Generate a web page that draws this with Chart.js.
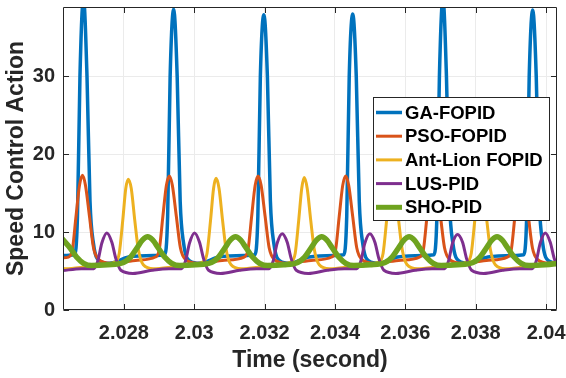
<!DOCTYPE html>
<html>
<head>
<meta charset="utf-8">
<script src="https://cdn.jsdelivr.net/npm/chart.js@4.4.1/dist/chart.umd.min.js"></script>
<style>
  html, body { margin: 0; padding: 0; background: #ffffff; }
  canvas { display: block; }
</style>
</head>
<body>
<canvas id="c" width="566" height="378"></canvas>
<script>
// ---------- data ----------
const seriesNames = ['GA-FOPID', 'PSO-FOPID', 'Ant-Lion FOPID', 'LUS-PID', 'SHO-PID'];
const xTickValues = [2.028, 2.030, 2.032, 2.034, 2.036, 2.038, 2.040];
const xTickLabels = ['2.028', '2.03', '2.032', '2.034', '2.036', '2.038', '2.04'];
const yTickValues = [0, 10, 20, 30];
const xAxisTitle = 'Time (second)';
const yAxisTitle = 'Speed Control Action';

const gaTime = [2.026254, 2.026596, 2.026681, 2.026752, 2.026852, 2.026952, 2.027037, 2.027137, 2.027308, 2.027592, 2.028132, 2.028842,
  2.029159, 2.029244, 2.029315, 2.029415, 2.029515, 2.0296, 2.0297, 2.029871, 2.030155, 2.030695, 2.031405,
  2.031723, 2.031808, 2.031879, 2.031979, 2.032079, 2.032164, 2.032264, 2.032435, 2.032719, 2.033259, 2.033969,
  2.034249, 2.034334, 2.034405, 2.034505, 2.034605, 2.03469, 2.03479, 2.034961, 2.035245, 2.035785, 2.036495,
  2.036812, 2.036897, 2.036968, 2.037068, 2.037168, 2.037253, 2.037353, 2.037524, 2.037808, 2.038348, 2.039058,
  2.039364, 2.039449, 2.03952, 2.03962, 2.03972, 2.039805, 2.039905, 2.040076, 2.04036];
const gaValue = [7.0, 7.1, 12, 30, 40, 30, 14, 8.5, 6.3, 6.0, 6.8, 7.0,
  7.1, 12, 30, 38.6, 30, 14, 8.5, 6.3, 6.0, 6.8, 7.0,
  7.1, 12, 30, 37.9, 30, 14, 8.5, 6.3, 6.0, 6.8, 7.0,
  7.1, 12, 30, 38.0, 30, 14, 8.5, 6.3, 6.0, 6.8, 7.0,
  7.1, 12, 30, 40, 30, 14, 8.5, 6.3, 6.0, 6.8, 7.0,
  7.1, 12, 30, 38.5, 30, 14, 8.5, 6.3, 6.0];

const psoTime = [2.026254, 2.026425, 2.026539, 2.026639, 2.026739, 2.026824, 2.026909, 2.027023, 2.027137, 2.02728, 2.027621, 2.02839,
  2.028894, 2.029008, 2.029108, 2.029208, 2.029293, 2.029378, 2.029492, 2.029606, 2.029749, 2.03009, 2.030859,
  2.031417, 2.031531, 2.031631, 2.031731, 2.031816, 2.031901, 2.032015, 2.032129, 2.032272, 2.032613, 2.033382,
  2.033906, 2.03402, 2.03412, 2.03422, 2.034305, 2.03439, 2.034504, 2.034618, 2.034761, 2.035102, 2.035871,
  2.036401, 2.036515, 2.036615, 2.036715, 2.0368, 2.036885, 2.036999, 2.037113, 2.037256, 2.037597, 2.038366,
  2.038899, 2.039013, 2.039113, 2.039213, 2.039298, 2.039383, 2.039497, 2.039611, 2.039754, 2.040095, 2.0404];
const psoValue = [6.7, 6.8, 7.8, 12, 16, 17.3, 16, 12, 8, 6.5, 6.0, 6.4,
  6.8, 7.8, 12, 16, 17.2, 16, 12, 8, 6.5, 6.0, 6.4,
  6.8, 7.8, 12, 16, 17.2, 16, 12, 8, 6.5, 6.0, 6.4,
  6.8, 7.8, 12, 16, 17.2, 16, 12, 8, 6.5, 6.0, 6.4,
  6.8, 7.8, 12, 16, 17.2, 16, 12, 8, 6.5, 6.0, 6.4,
  6.8, 7.8, 12, 16, 17.2, 16, 12, 8, 6.5, 6.0, 6.1];

const alTime = [2.026254, 2.02634, 2.027052, 2.027755, 2.027869, 2.027968, 2.028054, 2.028125, 2.02821, 2.02831, 2.02841, 2.028552, 2.028837, 2.029549,
  2.03025, 2.030364, 2.030463, 2.030549, 2.03062, 2.030705, 2.030805, 2.030905, 2.031047, 2.031332, 2.032044,
  2.032756, 2.03287, 2.032969, 2.033055, 2.033126, 2.033211, 2.033311, 2.033411, 2.033553, 2.033838, 2.03455,
  2.035254, 2.035368, 2.035467, 2.035553, 2.035624, 2.035709, 2.035809, 2.035909, 2.036051, 2.036336, 2.037048,
  2.03776, 2.037874, 2.037973, 2.038059, 2.03813, 2.038215, 2.038315, 2.038415, 2.038557, 2.038842, 2.039554,
  2.040266, 2.04038];
const alValue = [5.35, 5.3, 5.6, 6.2, 7.3, 11.5, 15.6, 16.8, 15.6, 11.5, 7.8, 5.8, 5.3, 5.6,
  6.2, 7.3, 11.5, 15.6, 16.9, 15.6, 11.5, 7.8, 5.8, 5.3, 5.6,
  6.2, 7.3, 11.5, 15.6, 17.0, 15.6, 11.5, 7.8, 5.8, 5.3, 5.6,
  6.2, 7.3, 11.5, 15.6, 16.9, 15.6, 11.5, 7.8, 5.8, 5.3, 5.6,
  6.2, 7.3, 11.5, 15.6, 16.9, 15.6, 11.5, 7.8, 5.8, 5.3, 5.6,
  6.2, 7.3];

const lusTime = [2.026254, 2.02679, 2.027146, 2.02726, 2.027374, 2.027516, 2.027658, 2.027772, 2.027915, 2.028256, 2.028798, 2.029282,
  2.029638, 2.029752, 2.029866, 2.030008, 2.03015, 2.030264, 2.030407, 2.030748, 2.03129, 2.031774,
  2.03213, 2.032244, 2.032358, 2.0325, 2.032642, 2.032756, 2.032899, 2.03324, 2.033782, 2.034266,
  2.034622, 2.034736, 2.03485, 2.034992, 2.035134, 2.035248, 2.035391, 2.035732, 2.036274, 2.036758,
  2.037114, 2.037228, 2.037342, 2.037484, 2.037626, 2.03774, 2.037883, 2.038224, 2.038766, 2.03925,
  2.039606, 2.03972, 2.039834, 2.039976, 2.040118, 2.040232, 2.040375];
const lusValue = [5.05, 5.3, 5.3, 6.3, 8.6, 9.9, 8.7, 6.6, 5.1, 4.7, 5.1, 5.3,
  5.3, 6.3, 8.6, 9.9, 8.7, 6.6, 5.1, 4.7, 5.1, 5.3,
  5.3, 6.3, 8.6, 9.8, 8.7, 6.6, 5.1, 4.7, 5.1, 5.3,
  5.3, 6.3, 8.6, 9.8, 8.7, 6.6, 5.1, 4.7, 5.1, 5.3,
  5.3, 6.3, 8.6, 9.7, 8.7, 6.6, 5.1, 4.7, 5.1, 5.3,
  5.3, 6.3, 8.6, 9.9, 8.7, 6.6, 5.1];

const shoTime = [2.026254, 2.026483, 2.026654, 2.026854, 2.027081, 2.027537,
  2.027991, 2.028191, 2.028362, 2.028533, 2.028675, 2.028817, 2.028988, 2.029159, 2.029359, 2.029586, 2.030042,
  2.030489, 2.030689, 2.03086, 2.031031, 2.031173, 2.031315, 2.031486, 2.031657, 2.031857, 2.032084, 2.03254,
  2.032938, 2.033138, 2.033309, 2.03348, 2.033622, 2.033764, 2.033935, 2.034106, 2.034306, 2.034533, 2.034989,
  2.035424, 2.035624, 2.035795, 2.035966, 2.036108, 2.03625, 2.036421, 2.036592, 2.036792, 2.037019, 2.037475,
  2.037922, 2.038122, 2.038293, 2.038464, 2.038606, 2.038748, 2.038919, 2.03909, 2.03929, 2.039517, 2.039973, 2.0404];
const shoValue = [9.1, 7.9, 6.8, 6.0, 5.7, 5.8,
  6.1, 6.8, 7.9, 9.0, 9.4, 9.0, 7.9, 6.8, 6.0, 5.7, 5.8,
  6.1, 6.8, 7.9, 9.0, 9.4, 9.0, 7.9, 6.8, 6.0, 5.7, 5.8,
  6.1, 6.8, 7.9, 9.0, 9.4, 9.0, 7.9, 6.8, 6.0, 5.7, 5.8,
  6.1, 6.8, 7.9, 9.0, 9.4, 9.0, 7.9, 6.8, 6.0, 5.7, 5.8,
  6.1, 6.8, 7.9, 9.0, 9.4, 9.0, 7.9, 6.8, 6.0, 5.7, 5.8, 6.0];

// ---------- styling ----------
const FONT = "'Liberation Sans', Arial, Helvetica, sans-serif";
const AXIS_COLOR = '#262626';
const colors = ['#0072BD', '#D95319', '#EDB120', '#7E2F8E', '#6FA31F'];
const widths = [3.5, 3, 3, 3, 5.5];
const drawOrder = [4, 3, 2, 1, 0]; // green on top

const times = [gaTime, psoTime, alTime, lusTime, shoTime];
const values = [gaValue, psoValue, alValue, lusValue, shoValue];

const datasets = seriesNames.map((name, k) => ({
  label: name,
  data: times[k].map((t, i) => ({ x: t, y: values[k][i] })),
  borderColor: colors[k],
  backgroundColor: colors[k],
  borderWidth: widths[k],
  pointRadius: 0,
  fill: false,
  cubicInterpolationMode: 'monotone',
  borderJoinStyle: 'round',
  borderCapStyle: 'round',
  clip: 0,
  order: drawOrder[k]
}));

function zeroPadding(s) {
  s.paddingTop = 0; s.paddingBottom = 0; s.paddingLeft = 0; s.paddingRight = 0;
}

const framePlugin = {
  id: 'frame',
  afterDraw(chart) {
    const { ctx, chartArea: a, scales: { x, y } } = chart;
    const L = Math.round(a.left) + 0.5, R = Math.round(a.right) - 0.5;
    const T = Math.round(a.top) + 0.5, B = Math.round(a.bottom) - 0.5;
    ctx.save();
    ctx.strokeStyle = AXIS_COLOR;
    ctx.lineWidth = 1;
    ctx.beginPath();
    ctx.rect(L, T, R - L, B - T);
    const tl = 5.5;
    xTickValues.forEach(v => {
      const px = Math.round(x.getPixelForValue(v)) + 0.5;
      ctx.moveTo(px, B); ctx.lineTo(px, B - tl);
      ctx.moveTo(px, T); ctx.lineTo(px, T + tl);
    });
    yTickValues.forEach(v => {
      const py = Math.round(y.getPixelForValue(v)) + 0.5;
      ctx.moveTo(L, py); ctx.lineTo(L + tl, py);
      ctx.moveTo(R, py); ctx.lineTo(R - tl, py);
    });
    ctx.stroke();
    ctx.restore();
  }
};

const legendPlugin = {
  id: 'boxLegend',
  afterDatasetsDraw(chart) {
    const ctx = chart.ctx;
    const bx = 373.5, by = 97.5, bw = 176, bh = 123;
    ctx.save();
    ctx.fillStyle = '#ffffff';
    ctx.fillRect(bx, by, bw, bh);
    ctx.strokeStyle = AXIS_COLOR;
    ctx.lineWidth = 1;
    ctx.strokeRect(bx, by, bw, bh);
    ctx.font = "bold 18.5px " + FONT;
    ctx.textBaseline = 'middle';
    ctx.textAlign = 'left';
    chart.data.datasets.forEach((ds, i) => {
      const cy = 112.5 + i * 23.7;
      ctx.strokeStyle = ds.borderColor;
      ctx.lineWidth = Math.min(ds.borderWidth, 5);
      ctx.lineCap = 'butt';
      ctx.beginPath();
      ctx.moveTo(376, cy);
      ctx.lineTo(402, cy);
      ctx.stroke();
      ctx.fillStyle = '#000000';
      ctx.fillText(ds.label, 405, cy + 1);
    });
    ctx.restore();
  }
};

new Chart(document.getElementById('c'), {
  type: 'line',
  data: { datasets },
  options: {
    responsive: false,
    animation: false,
    devicePixelRatio: 1,
    layout: { padding: { top: 7, right: 9, left: 0, bottom: 0 } },
    plugins: { legend: { display: false }, tooltip: { enabled: false } },
    scales: {
      x: {
        type: 'linear',
        min: 2.02627,
        max: 2.04031,
        afterBuildTicks: s => { s.ticks = xTickValues.map(v => ({ value: v })); },
        afterFit: s => { s.height = 68; zeroPadding(s); },
        border: { display: false },
        grid: { color: '#ebebeb', lineWidth: 1, drawTicks: false },
        ticks: {
          padding: 11,
          autoSkip: false,
          maxRotation: 0,
          color: AXIS_COLOR,
          font: { family: FONT, size: 20, weight: 'bold' },
          callback: v => xTickLabels[xTickValues.indexOf(v)]
        },
        title: {
          display: true,
          text: xAxisTitle,
          color: AXIS_COLOR,
          font: { family: FONT, size: 23, weight: 'bold' },
          padding: { top: 0, bottom: 4 }
        }
      },
      y: {
        type: 'linear',
        min: 0,
        max: 38.9,
        afterBuildTicks: s => { s.ticks = yTickValues.map(v => ({ value: v })); },
        afterFit: s => { s.width = 63; zeroPadding(s); },
        border: { display: false },
        grid: { color: '#ebebeb', lineWidth: 1, drawTicks: false },
        ticks: {
          padding: 8,
          color: AXIS_COLOR,
          font: { family: FONT, size: 20, weight: 'bold' },
          callback: v => String(v)
        },
        title: {
          display: true,
          text: yAxisTitle,
          color: AXIS_COLOR,
          font: { family: FONT, size: 23, weight: 'bold' },
          padding: { top: 3, bottom: 0 }
        }
      }
    }
  },
  plugins: [legendPlugin, framePlugin]
});
</script>
</body>
</html>
